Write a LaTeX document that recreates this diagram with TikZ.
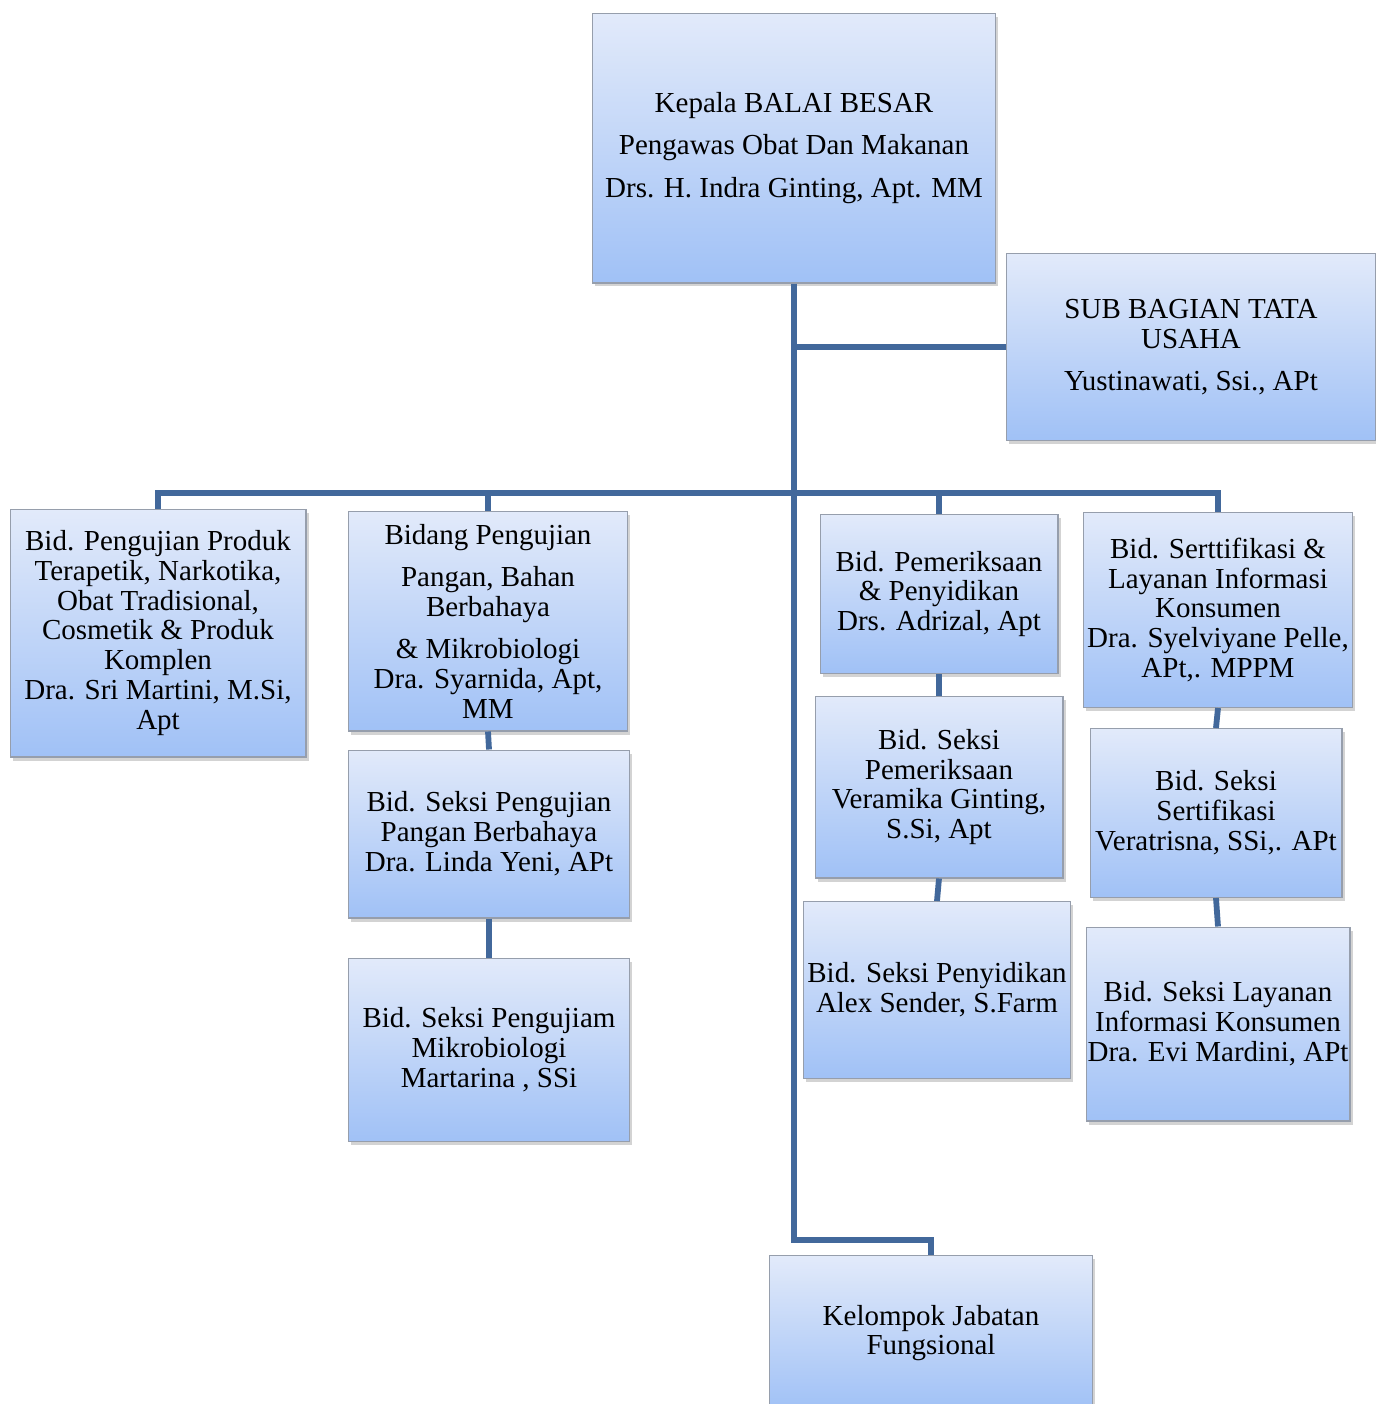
\documentclass[tikz,border=0pt]{standalone}
\usepackage{fontspec}
\setmainfont{Liberation Serif}
\definecolor{BoxTop}    {RGB}{226, 234, 250}
\definecolor{BoxBottom} {RGB}{160, 193, 246}
\definecolor{BoxEdge}   {RGB}{150, 158, 172}
\definecolor{LinkBlue}  {RGB}{66,  104, 155}
\usetikzlibrary{shadows}

\begin{document}
\begin{tikzpicture}[
  x=0.02cm, y=-0.02cm,
  unit/.style={
    draw=BoxEdge, line width=0.6pt,
    top color=BoxTop, bottom color=BoxBottom,
    drop shadow={opacity=0.35, shadow xshift=1.5pt, shadow yshift=-2pt},
    inner sep=0pt, align=center,
    font=\fontsize{16.5}{17}\selectfont
  },
  link/.style={LinkBlue, line width=3.3pt}
]
\useasboundingbox (0,0) rectangle (1376,1404);

% Pimpinan
\node[unit, minimum width=8.06cm, minimum height=5.40cm,
  font=\fontsize{16.5}{24}\selectfont] (kepala) at (794,148)
  {Kepala BALAI BESAR\\Pengawas Obat Dan Makanan\\Drs. H. Indra Ginting, Apt. MM};
\node[unit, minimum width=7.40cm, minimum height=3.74cm] (tatausaha) at (1191,347)
  {SUB BAGIAN TATA\\USAHA\\[7pt]Yustinawati, Ssi., APt};

% Bidang
\node[unit, minimum width=5.92cm, minimum height=4.96cm] (bid1) at (158,633)
  {Bid. Pengujian Produk\\Terapetik, Narkotika,\\Obat Tradisional,\\Cosmetik \& Produk\\Komplen\\Dra. Sri Martini, M.Si,\\Apt};
\node[unit, minimum width=5.58cm, minimum height=4.40cm] (bid2) at (488,621)
  {Bidang Pengujian\\[7pt]Pangan, Bahan\\Berbahaya\\[7pt]\& Mikrobiologi\\Dra. Syarnida, Apt,\\MM};
\node[unit, minimum width=4.76cm, minimum height=3.18cm] (bid3) at (939,594)
  {Bid. Pemeriksaan\\\& Penyidikan\\Drs. Adrizal, Apt};
\node[unit, minimum width=5.38cm, minimum height=3.90cm] (bid4) at (1218,610)
  {Bid. Serttifikasi \&\\Layanan Informasi\\Konsumen\\Dra. Syelviyane Pelle,\\APt,. MPPM};

% Seksi
\node[unit, minimum width=5.62cm, minimum height=3.36cm] (seksi2a) at (489,834)
  {Bid. Seksi Pengujian\\Pangan Berbahaya\\Dra. Linda Yeni, APt};
\node[unit, minimum width=5.62cm, minimum height=3.66cm] (seksi2b) at (489,1050)
  {Bid. Seksi Pengujiam\\Mikrobiologi\\Martarina , SSi};
\node[unit, minimum width=4.96cm, minimum height=3.64cm] (seksi3a) at (939,787)
  {Bid. Seksi\\Pemeriksaan\\Veramika Ginting,\\S.Si, Apt};
\node[unit, minimum width=5.34cm, minimum height=3.54cm] (seksi3b) at (937,990)
  {Bid. Seksi Penyidikan\\Alex Sender, S.Farm};
\node[unit, minimum width=5.04cm, minimum height=3.38cm] (seksi4a) at (1216,813)
  {Bid. Seksi\\Sertifikasi\\Veratrisna, SSi,. APt};
\node[unit, minimum width=5.28cm, minimum height=3.88cm] (seksi4b) at (1218,1024)
  {Bid. Seksi Layanan\\Informasi Konsumen\\Dra. Evi Mardini, APt};

% Fungsional
\node[unit, minimum width=6.46cm, minimum height=3.10cm] (fungsi) at (931,1333)
  {Kelompok Jabatan\\Fungsional};

% Garis
\coordinate (bus) at (794,493);
\coordinate (elbow) at (794,1240);
\draw[link] (kepala.south) -- (elbow) -| (fungsi.north);
\draw[link] (kepala.south |- tatausaha.west) -- (tatausaha.west);
\draw[link] (bid1.north) |- (bus) -| (bid4.north);
\draw[link] (bid2.north) -- (bid2.north |- bus);
\draw[link] (bid3.north) -- (bid3.north |- bus);
\draw[link] (bid2.south) -- (seksi2a.north);
\draw[link] (seksi2a.south) -- (seksi2b.north);
\draw[link] (bid3.south) -- (seksi3a.north);
\draw[link] (seksi3a.south) -- (seksi3b.north);
\draw[link] (bid4.south) -- (seksi4a.north);
\draw[link] (seksi4a.south) -- (seksi4b.north);
\end{tikzpicture}
\end{document}
